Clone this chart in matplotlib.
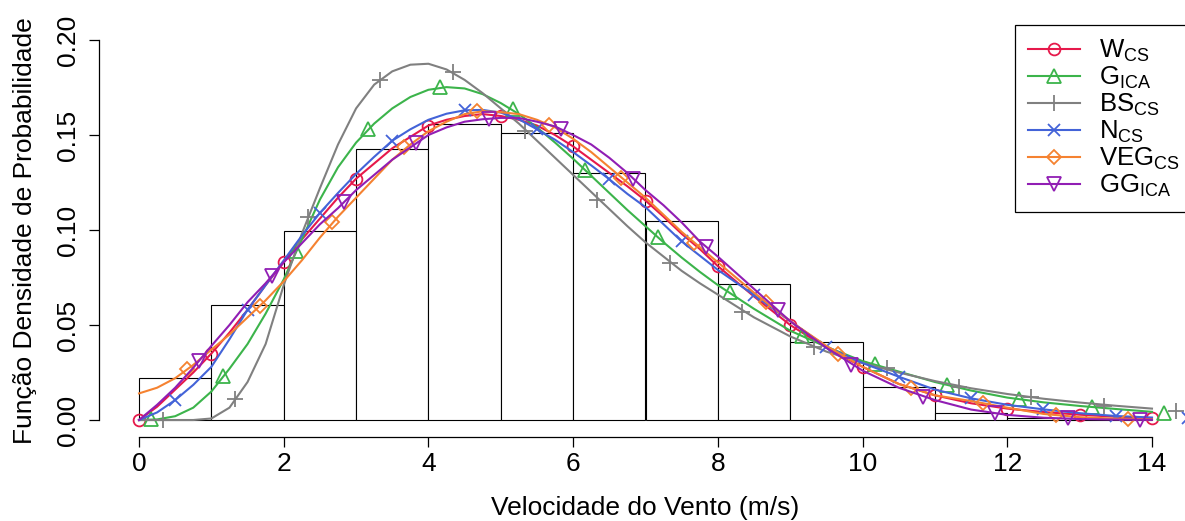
import numpy as np
import matplotlib
matplotlib.use('Agg')
import matplotlib.pyplot as plt
from matplotlib.lines import Line2D

plt.rcParams['font.family'] = ['Liberation Sans', 'DejaVu Sans']
plt.rcParams['mathtext.fontset'] = 'custom'
plt.rcParams['mathtext.rm'] = 'Liberation Sans'
plt.rcParams['mathtext.it'] = 'Liberation Sans:italic'

# ---------------- data ----------------
bin_left = [0, 1, 2, 3, 4, 5, 6, 7, 8, 9, 10, 11, 12, 13]
hist_density = [0.0223, 0.0604, 0.0997, 0.1425, 0.1558, 0.1512, 0.1302,
                0.1049, 0.0716, 0.0409, 0.0172, 0.0036, 0.0009, 0.0004]

x_grid = [0, 0.25, 0.5, 0.75, 1, 1.25, 1.5, 1.75, 2, 2.25, 2.5, 2.75, 3, 3.25,
          3.5, 3.75, 4, 4.25, 4.5, 4.75, 5, 5.25, 5.5, 5.75, 6, 6.25, 6.5, 6.75,
          7, 7.25, 7.5, 7.75, 8, 8.5, 9, 9.5, 10, 10.5, 11, 11.5, 12, 12.5, 13,
          13.5, 14]

W_cs = [0, 0.007, 0.016, 0.025, 0.035, 0.046, 0.058, 0.071, 0.083, 0.095, 0.106,
        0.117, 0.127, 0.135, 0.143, 0.149, 0.155, 0.158, 0.160, 0.161, 0.160,
        0.158, 0.155, 0.150, 0.144, 0.137, 0.130, 0.123, 0.1155, 0.107, 0.098,
        0.090, 0.081, 0.065, 0.050, 0.038, 0.028, 0.019, 0.013, 0.0088, 0.006,
        0.0042, 0.0028, 0.0017, 0.001]
G_ica = [0, 0.0003, 0.002, 0.0065, 0.015, 0.027, 0.040, 0.056, 0.074, 0.095,
         0.116, 0.133, 0.146, 0.156, 0.164, 0.170, 0.1738, 0.1752, 0.1745,
         0.1715, 0.1668, 0.161, 0.154, 0.146, 0.1375, 0.1285, 0.1195, 0.1105,
         0.102, 0.0935, 0.0855, 0.078, 0.071, 0.0585, 0.047, 0.0385, 0.031,
         0.0255, 0.020, 0.0155, 0.0118, 0.0093, 0.0074, 0.0058, 0.0043]
BS_cs = [0, 0, 0, 0, 0.0008, 0.0065, 0.020, 0.040, 0.071, 0.098, 0.122, 0.145,
         0.164, 0.1765, 0.1835, 0.187, 0.1875, 0.1845, 0.179, 0.172, 0.164,
         0.156, 0.147, 0.138, 0.129, 0.120, 0.111, 0.102, 0.0935, 0.086, 0.0785,
         0.072, 0.066, 0.054, 0.044, 0.036, 0.030, 0.025, 0.0205, 0.0167,
         0.0137, 0.0112, 0.0092, 0.0075, 0.006]
N_cs = [0, 0.004, 0.0105, 0.0185, 0.028, 0.0425, 0.058, 0.071, 0.084, 0.097,
        0.109, 0.1195, 0.1295, 0.1385, 0.147, 0.153, 0.158, 0.1612, 0.163,
        0.1632, 0.1618, 0.1583, 0.153, 0.1475, 0.141, 0.134, 0.1267, 0.119,
        0.112, 0.103, 0.094, 0.0865, 0.079, 0.0658, 0.052, 0.0386, 0.030,
        0.0228, 0.016, 0.0114, 0.008, 0.0056, 0.0036, 0.0021, 0.0013]
VEG_cs = [0.014, 0.017, 0.022, 0.029, 0.037, 0.045, 0.054, 0.063, 0.073, 0.084,
          0.096, 0.107, 0.117, 0.127, 0.137, 0.145, 0.152, 0.157, 0.161, 0.1625,
          0.162, 0.161, 0.158, 0.154, 0.148, 0.141, 0.133, 0.125, 0.117, 0.108,
          0.099, 0.091, 0.083, 0.067, 0.052, 0.039, 0.028, 0.019, 0.013, 0.010,
          0.0065, 0.0032, 0.0015, 0.0007, 0.0003]
GG_ica = [0, 0.008, 0.017, 0.0275, 0.039, 0.050, 0.062, 0.072, 0.083, 0.093,
          0.103, 0.1115, 0.121, 0.129, 0.137, 0.1435, 0.150, 0.154, 0.157,
          0.1583, 0.159, 0.159, 0.157, 0.1545, 0.150, 0.145, 0.138, 0.130,
          0.121, 0.113, 0.104, 0.094, 0.086, 0.069, 0.052, 0.038, 0.026, 0.017,
          0.0105, 0.0055, 0.0027, 0.0012, 0.0005, 0.0002, 0.0001]

# marker positions: every 1 m/s, each series shifted by 1/6 m/s
marker_offsets = [0, 1/6, 2/6, 3/6, 4/6, 5/6]
W_mk = [0, 0.035, 0.083, 0.127, 0.155, 0.160, 0.144, 0.1155, 0.081, 0.050,
        0.028, 0.013, 0.006, 0.0028, 0.001]
G_mk = [0.0003, 0.023, 0.089, 0.153, 0.1754, 0.1635, 0.1316, 0.0965, 0.0672,
        0.044, 0.0296, 0.0185, 0.0112, 0.0069, 0.0039]
BS_mk = [0, 0.011, 0.107, 0.179, 0.183, 0.152, 0.116, 0.0828, 0.057, 0.0386,
         0.0272, 0.0175, 0.012, 0.0074, 0.0049]
N_mk = [0.0105, 0.058, 0.109, 0.147, 0.163, 0.153, 0.1267, 0.094, 0.0658,
        0.0386, 0.0228, 0.0114, 0.0056, 0.0021, 0.0008]
VEG_mk = [0.0267, 0.060, 0.104, 0.1435, 0.1625, 0.1555, 0.1272, 0.093, 0.062,
          0.0347, 0.0167, 0.0088, 0.0026, 0.0006, 0.0002]
GG_mk = [0.031, 0.0758, 0.115, 0.146, 0.1584, 0.153, 0.1267, 0.0912, 0.0579,
         0.029, 0.0123, 0.0035, 0.0008, 0.0002, 0.0001]

labels = [r'W$_\mathrm{CS}$', r'G$_\mathrm{ICA}$', r'BS$_\mathrm{CS}$',
          r'N$_\mathrm{CS}$', r'VEG$_\mathrm{CS}$', r'GG$_\mathrm{ICA}$']
colors = ['#E6194B', '#3CB44B', '#808080', '#4363D8', '#F58231', '#911EB4']
markers = ['o', '^', '+', 'x', 'D', 'v']
msizes = [8.5, 10, 11, 8.5, 7.5, 10]

lines = [W_cs, G_ica, BS_cs, N_cs, VEG_cs, GG_ica]
mks = [W_mk, G_mk, BS_mk, N_mk, VEG_mk, GG_mk]

# ---------------- figure ----------------
Wpx, Hpx = 1185, 521
fig = plt.figure(figsize=(Wpx / 100, Hpx / 100), dpi=100)
left, right, bottom, top = 98.5, 1192.5, 436.5, 24.8
ax = fig.add_axes([left / Wpx, 1 - bottom / Hpx, (right - left) / Wpx, (bottom - top) / Hpx])
ax.set_xlim(-0.56, 14.56)
ax.set_ylim(-0.00868, 0.208)

ax.bar(bin_left, hist_density, width=1, align='edge', facecolor='white',
       edgecolor='black', linewidth=0.8, zorder=1)

handles = []
for i in range(6):
    ax.plot(x_grid, lines[i], color=colors[i], lw=1.5, zorder=3 + i, clip_on=False)
    mx = [marker_offsets[i] + k for k in range(15)]
    ax.plot(mx, mks[i], linestyle='none', marker=markers[i], ms=msizes[i],
            mfc='none', mec=colors[i], mew=1.3, zorder=3 + i)
    handles.append(Line2D([], [], color=colors[i], lw=1.5, marker=markers[i],
                          ms=msizes[i], mfc='none', mec=colors[i], mew=1.3))

for s in ['top', 'right']:
    ax.spines[s].set_visible(False)
ax.spines['left'].set_bounds(0, 0.2)
ax.spines['bottom'].set_bounds(0, 14)
for s in ['left', 'bottom']:
    ax.spines[s].set_linewidth(0.9)

ax.set_xticks([0, 2, 4, 6, 8, 10, 12, 14])
ax.set_xticklabels(['0', '2', '4', '6', '8', '10', '12', '14'])
ax.set_yticks([0, 0.05, 0.10, 0.15, 0.20])
ax.set_yticklabels(['0.00', '0.05', '0.10', '0.15', '0.20'], rotation=90, va='center')
ax.tick_params(axis='both', direction='out', length=7.2, width=0.9, labelsize=19)
ax.tick_params(axis='x', pad=4.2)
ax.tick_params(axis='y', pad=6)

fig.text(645 / Wpx, 1 - 508 / Hpx, 'Velocidade do Vento (m/s)', ha='center',
         va='center', fontsize=19)
fig.text(25 / Wpx, 1 - 230.6 / Hpx, 'Função Densidade de Probabilidade',
         ha='center', va='center', rotation=90, fontsize=19)

leg = ax.legend(handles, labels, loc='upper right', bbox_to_anchor=(1, 1),
                borderaxespad=0, fancybox=False, framealpha=1, edgecolor='black',
                fontsize=18.5, handlelength=2.0, handletextpad=0.75,
                labelspacing=0.03, borderpad=0.5, numpoints=1)
leg.get_frame().set_linewidth(0.9)

fig.savefig('out.png', dpi=100)
